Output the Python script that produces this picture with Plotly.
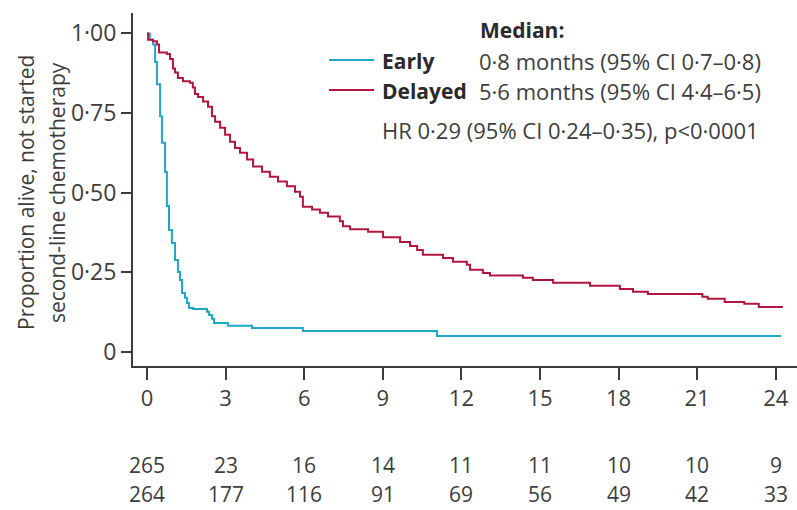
import plotly.graph_objects as go

# ---- data ----
early_t = [0, 0.11, 0.23, 0.31, 0.38, 0.50, 0.57, 0.69, 0.76, 0.84, 0.95, 1.07, 1.18, 1.26,
           1.34, 1.45, 1.53, 1.60, 1.76, 2.29, 2.37, 2.48, 2.56, 3.09, 4.01, 5.95, 11.07, 24.2]
early_s = [1.0, 0.98, 0.965, 0.91, 0.84, 0.74, 0.657, 0.565, 0.458, 0.383, 0.342, 0.289, 0.251, 0.226,
           0.185, 0.170, 0.154, 0.138, 0.135, 0.126, 0.116, 0.104, 0.091, 0.082, 0.075, 0.066, 0.050, 0.050]

delayed_t = [0, 0.04, 0.23, 0.38, 0.46, 0.76, 0.88, 0.99, 1.07, 1.18, 1.37, 1.64, 1.75, 1.83, 1.95,
             2.14, 2.33, 2.48, 2.60, 2.79, 2.98, 3.17, 3.36, 3.55, 3.82, 4.05, 4.39, 4.69, 5.0,
             5.34, 5.65, 5.84, 5.95, 6.30, 6.60, 6.91, 7.36, 7.48, 7.75, 8.44, 9.01, 9.66, 10.04,
             10.31, 10.53, 11.30, 11.68, 12.21, 12.33, 12.82, 13.09, 14.35, 14.73, 15.50, 16.91,
             18.05, 18.55, 19.12, 21.2, 21.4, 22.05, 22.8, 23.35, 24.27]
delayed_s = [1.0, 0.98, 0.975, 0.965, 0.94, 0.935, 0.92, 0.89, 0.877, 0.86, 0.85, 0.845, 0.83, 0.81, 0.80,
             0.786, 0.77, 0.74, 0.723, 0.704, 0.682, 0.66, 0.64, 0.625, 0.604, 0.582, 0.566, 0.55, 0.535,
             0.52, 0.503, 0.487, 0.456, 0.447, 0.437, 0.425, 0.41, 0.395, 0.385, 0.377, 0.36, 0.345, 0.333,
             0.32, 0.305, 0.295, 0.283, 0.274, 0.258, 0.248, 0.24, 0.233, 0.226, 0.217, 0.2075,
             0.198, 0.189, 0.182, 0.173, 0.167, 0.157, 0.151, 0.1415, 0.1415]

x_ticks = [0, 3, 6, 9, 12, 15, 18, 21, 24]
y_ticks = [0, 0.25, 0.5, 0.75, 1.0]
y_tick_labels = ["0", "0·25", "0·50", "0·75", "1·00"]
at_risk_early = [265, 23, 16, 14, 11, 11, 10, 10, 9]
at_risk_delayed = [264, 177, 116, 91, 69, 56, 49, 42, 33]

series_names = ["Early", "Delayed"]
median_texts = ["0·8 months (95% CI 0·7–0·8)", "5·6 months (95% CI 4·4–6·5)"]
hr_text = "HR 0·29 (95% CI 0·24–0·35), p<0·0001"
y_title_lines = ["Proportion alive, not started", "second-line chemotherapy"]

# ---- style ----
C_EARLY = "#1ea8c8"
C_DELAYED = "#b2163f"
AXIS = "#3c3c3c"
TXT = "#3d3d3d"
BOLD_TXT = "#2a2a2a"
FONT = "Open Sans"

W, H = 797, 510
ML, MR, MT, MB = 133, 0, 13, 144
PW, PH = W - ML - MR, H - MT - MB

def px_to_paper_x(px):
    return (px - ML) / PW

def py_to_paper_y(py):
    return (H - MB - py) / PH

fig = go.Figure()
fig.add_trace(go.Scatter(x=early_t, y=early_s, mode="lines", line=dict(color=C_EARLY, width=2, shape="hv"),
                         name=series_names[0], showlegend=False, hoverinfo="skip"))
fig.add_trace(go.Scatter(x=delayed_t, y=delayed_s, mode="lines", line=dict(color=C_DELAYED, width=2, shape="hv"),
                         name=series_names[1], showlegend=False, hoverinfo="skip"))

annotations = []
# at-risk table
for vals, ypx, anchor in [(at_risk_early, 465, "middle"), (at_risk_delayed, 510, "bottom")]:
    for xv, v in zip(x_ticks, vals):
        annotations.append(dict(x=xv, y=py_to_paper_y(ypx), xref="x", yref="paper", text=str(v),
                                showarrow=False, xanchor="center", yanchor=anchor,
                                font=dict(family=FONT, size=21, color=TXT)))

# legend block
annotations.append(dict(x=px_to_paper_x(478), y=py_to_paper_y(30), xref="paper", yref="paper",
                        text="<b>Median:</b>", showarrow=False, xanchor="left", yanchor="middle",
                        font=dict(family=FONT, size=21, color=BOLD_TXT)))
shapes = []
legend_colors = [C_EARLY, C_DELAYED]
for i, (nm, mt, col) in enumerate(zip(series_names, median_texts, legend_colors)):
    ypx = 61 + 30 * i
    shapes.append(dict(type="line", xref="paper", yref="paper",
                       x0=px_to_paper_x(329), x1=px_to_paper_x(374),
                       y0=py_to_paper_y(ypx - 1), y1=py_to_paper_y(ypx - 1),
                       line=dict(color=col, width=2)))
    annotations.append(dict(x=px_to_paper_x(380), y=py_to_paper_y(ypx), xref="paper", yref="paper",
                            text="<b>" + nm + "</b>", showarrow=False, xanchor="left", yanchor="middle",
                            font=dict(family=FONT, size=21, color=BOLD_TXT)))
    annotations.append(dict(x=px_to_paper_x(477), y=py_to_paper_y(ypx), xref="paper", yref="paper",
                            text=mt, showarrow=False, xanchor="left", yanchor="middle",
                            font=dict(family=FONT, size=22, color=TXT)))
annotations.append(dict(x=px_to_paper_x(380), y=py_to_paper_y(130), xref="paper", yref="paper",
                        text=hr_text, showarrow=False, xanchor="left", yanchor="middle",
                        font=dict(family=FONT, size=22, color=TXT)))

# y-axis title (two rotated lines)
for line_text, xpx in zip(y_title_lines, [26, 57]):
    annotations.append(dict(x=px_to_paper_x(xpx), y=py_to_paper_y(193), xref="paper", yref="paper",
                            text=line_text, showarrow=False, textangle=-90,
                            xanchor="center", yanchor="middle",
                            font=dict(family=FONT, size=21, color=TXT)))

fig.update_layout(
    width=W, height=H,
    margin=dict(l=ML, r=MR, t=MT, b=MB, pad=0),
    paper_bgcolor="white", plot_bgcolor="white",
    annotations=annotations, shapes=shapes,
    showlegend=False,
)
fig.update_xaxes(range=[-0.534, 24.81], tickvals=x_ticks, ticktext=[str(v) for v in x_ticks],
                 showgrid=False, zeroline=False, showline=True, linecolor=AXIS, linewidth=2,
                 ticks="outside", ticklen=12, tickwidth=2, tickcolor=AXIS,
                 tickfont=dict(family=FONT, size=22, color=TXT))
fig.update_yaxes(range=[-0.044, 1.064], tickvals=y_ticks, ticktext=y_tick_labels,
                 showgrid=False, zeroline=False, showline=True, linecolor=AXIS, linewidth=2,
                 ticks="outside", ticklen=10, tickwidth=2, tickcolor=AXIS,
                 tickfont=dict(family=FONT, size=23, color=TXT))

fig.write_html("out.html")
